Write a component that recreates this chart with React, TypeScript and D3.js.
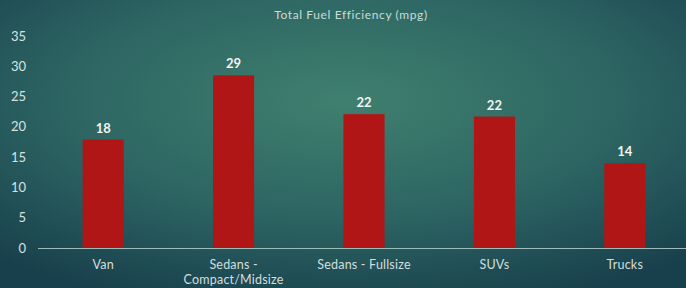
import React from "react";
import * as d3 from "d3";

const categories: string[][] = [["Van"], ["Sedans -", "Compact/Midsize"], ["Sedans - Fullsize"], ["SUVs"], ["Trucks"]];
const values: number[] = [17.9, 28.5, 22.1, 21.7, 14.0];
const valueLabels: string[] = ["18", "29", "22", "22", "14"];
const yTicks: number[] = [0, 5, 10, 15, 20, 25, 30, 35];
const title = "Total Fuel Efficiency (mpg)";

const W = 686, H = 288;
const FONT = "Lato, 'Open Sans', sans-serif";

export default function App() {
  const x = d3.scaleBand<number>().domain(d3.range(values.length)).range([38, 690]).paddingInner(0.685).paddingOuter(0.3425);
  const y = d3.scaleLinear().domain([0, 35]).range([248, 36]);
  return (
    <svg width={W} height={H} style={{ position: "absolute", left: 0, top: 0 }}>
      <defs>
        <radialGradient id="bg" cx="0.5" cy="0.35" r="0.75" fx="0.5" fy="0.35">
          <stop offset="0" stopColor="#40806f" />
          <stop offset="0.55" stopColor="#2c6462" />
          <stop offset="1" stopColor="#183f4c" />
        </radialGradient>
      </defs>
      <rect width={W} height={H} fill="url(#bg)" />
      <text x={351} y={19} textAnchor="middle" fontFamily={FONT} fontSize={12} letterSpacing={0.6} fill="#c9dcd8">{title}</text>
      {yTicks.map((t) => (
        <text key={t} x={26} y={y(t) + 4.5} textAnchor="end" fontFamily={FONT} fontSize={13} fill="#d6e2e0">{t}</text>
      ))}
      {values.map((v, i) => (
        <g key={i}>
          <rect x={x(i)} y={y(v)} width={x.bandwidth()} height={y(0) - y(v)} fill="#b01616" />
          <text x={(x(i) as number) + x.bandwidth() / 2} y={y(v) - 7} textAnchor="middle" fontFamily={FONT} fontWeight="bold" fontSize={13} fill="#f2f4f4">{valueLabels[i]}</text>
          {categories[i].map((line, j) => (
            <text key={j} x={(x(i) as number) + x.bandwidth() / 2} y={269 + j * 15} textAnchor="middle" fontFamily={FONT} fontSize={12.5} letterSpacing={0.2} fill="#d2dedd">{line}</text>
          ))}
        </g>
      ))}
      <line x1={38} x2={W} y1={248.5} y2={248.5} stroke="#9fbcbc" strokeWidth={1} />
    </svg>
  );
}
